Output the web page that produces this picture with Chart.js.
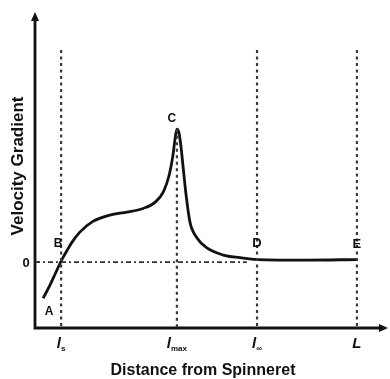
<!DOCTYPE html>
<html lang="en">
<head>
    <meta charset="UTF-8">
    <title>Velocity Gradient</title>
    <script src="https://cdn.jsdelivr.net/npm/chart.js"></script>
    <style>
        html, body { margin: 0; padding: 0; background: #fff; }
        canvas { display: block; }
    </style>
</head>
<body>
    <canvas id="gradChart" width="390" height="379"></canvas>
<script>
    // distance along the spinline (arbitrary units) and velocity gradient
    const curveX = [0.23, 0.42, 0.57, 0.74, 0.91, 1.05, 1.27, 1.64, 2.12, 2.61, 3.06, 3.40, 3.64, 3.80, 3.90, 3.97, 4.02, 4.08, 4.14, 4.19, 4.28, 4.39, 4.59, 4.87, 5.33, 5.81, 6.29, 7.71, 9.12];
    const curveY = [-1.37, -0.88, -0.45, 0.04, 0.45, 0.76, 1.14, 1.55, 1.79, 1.90, 2.04, 2.27, 2.68, 3.30, 3.99, 4.70, 5.05, 4.90, 4.33, 3.69, 2.55, 1.52, 0.92, 0.54, 0.27, 0.17, 0.10, 0.08, 0.10];

    // marked distances: l_s, l_max, l_inf, L
    const markX = [0.74, 4.02, 6.29, 9.12];
    const markMain = ['l', 'l', 'l', 'L'];
    const markSub = ['s', 'max', '∞', ''];
    const markTop = [8.06, 5.05, 8.06, 8.06];

    // point letters on the curve (index into curve arrays)
    const pointNames = ['A', 'B', 'C', 'D', 'E'];
    const pointIdx = [0, 3, 16, 26, 28];

    const zeroLineEnd = 6.0;
    const yMin = -2.5, yMax = 9.5;

    const ink = '#111';

    const vlineSets = markX.map((x, i) => ({
        data: [{ x: x, y: markTop[i] }, { x: x, y: yMin }],
        borderColor: '#3a3a3a',
        borderWidth: 2.2,
        borderDash: [3, 3.5],
        pointRadius: 0,
        tension: 0
    }));

    const axesPlugin = {
        id: 'axes',
        beforeDatasetsDraw(chart) {
            const { ctx, chartArea: a } = chart;
            ctx.save();
            ctx.strokeStyle = ink;
            ctx.fillStyle = ink;
            ctx.lineWidth = 2.8;
            ctx.beginPath();
            ctx.moveTo(a.left, a.top + 6);
            ctx.lineTo(a.left, a.bottom);
            ctx.lineTo(a.right - 6, a.bottom);
            ctx.stroke();
            // arrow heads
            ctx.beginPath();
            ctx.moveTo(a.left, a.top);
            ctx.lineTo(a.left - 4, a.top + 9);
            ctx.lineTo(a.left + 4, a.top + 9);
            ctx.closePath();
            ctx.fill();
            ctx.beginPath();
            ctx.moveTo(a.right, a.bottom);
            ctx.lineTo(a.right - 9, a.bottom - 4);
            ctx.lineTo(a.right - 9, a.bottom + 4);
            ctx.closePath();
            ctx.fill();
            // small tick at zero
            const y0 = chart.scales.y.getPixelForValue(0);
            ctx.lineWidth = 1.5;
            ctx.beginPath();
            ctx.moveTo(a.left, y0);
            ctx.lineTo(a.left + 5, y0);
            ctx.stroke();
            ctx.restore();
        }
    };

    const labelsPlugin = {
        id: 'labels',
        afterDraw(chart) {
            const { ctx, chartArea: a, scales: { x, y } } = chart;
            ctx.save();
            ctx.fillStyle = ink;
            ctx.textAlign = 'center';
            ctx.textBaseline = 'middle';

            // axis titles
            ctx.font = 'bold 16px "Liberation Sans", Arial, sans-serif';
            ctx.fillText('Distance from Spinneret', 203, 371);
            ctx.save();
            ctx.translate(18, 166);
            ctx.rotate(-Math.PI / 2);
            ctx.font = 'bold 17px "Liberation Sans", Arial, sans-serif';
            ctx.fillText('Velocity Gradient', 0, 0);
            ctx.restore();

            // zero label
            ctx.font = 'bold 13px "Liberation Sans", Arial, sans-serif';
            ctx.fillText('0', a.left - 9, y.getPixelForValue(0) + 1);

            // marked distances on x axis
            markX.forEach((v, i) => {
                const px = x.getPixelForValue(v);
                ctx.font = 'bold italic 15px "Liberation Sans", Arial, sans-serif';
                const w = ctx.measureText(markMain[i]).width;
                const sub = markSub[i];
                ctx.font = 'bold 8px "Liberation Sans", Arial, sans-serif';
                const sw = sub ? ctx.measureText(sub).width : 0;
                const start = px - (w + sw) / 2;
                ctx.textAlign = 'left';
                ctx.font = 'bold italic 15px "Liberation Sans", Arial, sans-serif';
                ctx.fillText(markMain[i], start, a.bottom + 16);
                if (sub) {
                    ctx.font = 'bold 8px "Liberation Sans", Arial, sans-serif';
                    ctx.fillText(sub, start + w, a.bottom + 21);
                }
            });

            // letters on the curve
            ctx.textAlign = 'center';
            const offs = [[6, 13], [-3, -17], [-5, -10], [0, -16], [0, -15]];
            pointIdx.forEach((k, i) => {
                ctx.font = (i >= 3 ? 'bold 13px' : 'bold 12px') + ' "Liberation Sans", Arial, sans-serif';
                const px = x.getPixelForValue(curveX[k]) + offs[i][0];
                const py = y.getPixelForValue(curveY[k]) + offs[i][1];
                ctx.fillText(pointNames[i], px, py);
            });
            ctx.restore();
        }
    };

    new Chart(document.getElementById('gradChart').getContext('2d'), {
        type: 'line',
        data: {
            datasets: [
                {
                    data: [{ x: 0, y: 0 }, { x: zeroLineEnd, y: 0 }],
                    borderColor: '#333',
                    borderWidth: 1.6,
                    borderDash: [5, 3, 2, 3],
                    pointRadius: 0,
                    tension: 0
                },
                ...vlineSets,
                {
                    data: curveX.map((v, i) => ({ x: v, y: curveY[i] })),
                    borderColor: ink,
                    borderWidth: 2.8,
                    pointRadius: 0,
                    cubicInterpolationMode: 'monotone'
                }
            ]
        },
        options: {
            responsive: false,
            animation: false,
            devicePixelRatio: 1,
            layout: { padding: { left: 35, right: 2, top: 12, bottom: 51 } },
            plugins: { legend: { display: false }, tooltip: { enabled: false } },
            scales: {
                x: { type: 'linear', min: 0, max: 10, display: false },
                y: { type: 'linear', min: yMin, max: yMax, display: false }
            }
        },
        plugins: [axesPlugin, labelsPlugin]
    });
</script>
</body>
</html>
